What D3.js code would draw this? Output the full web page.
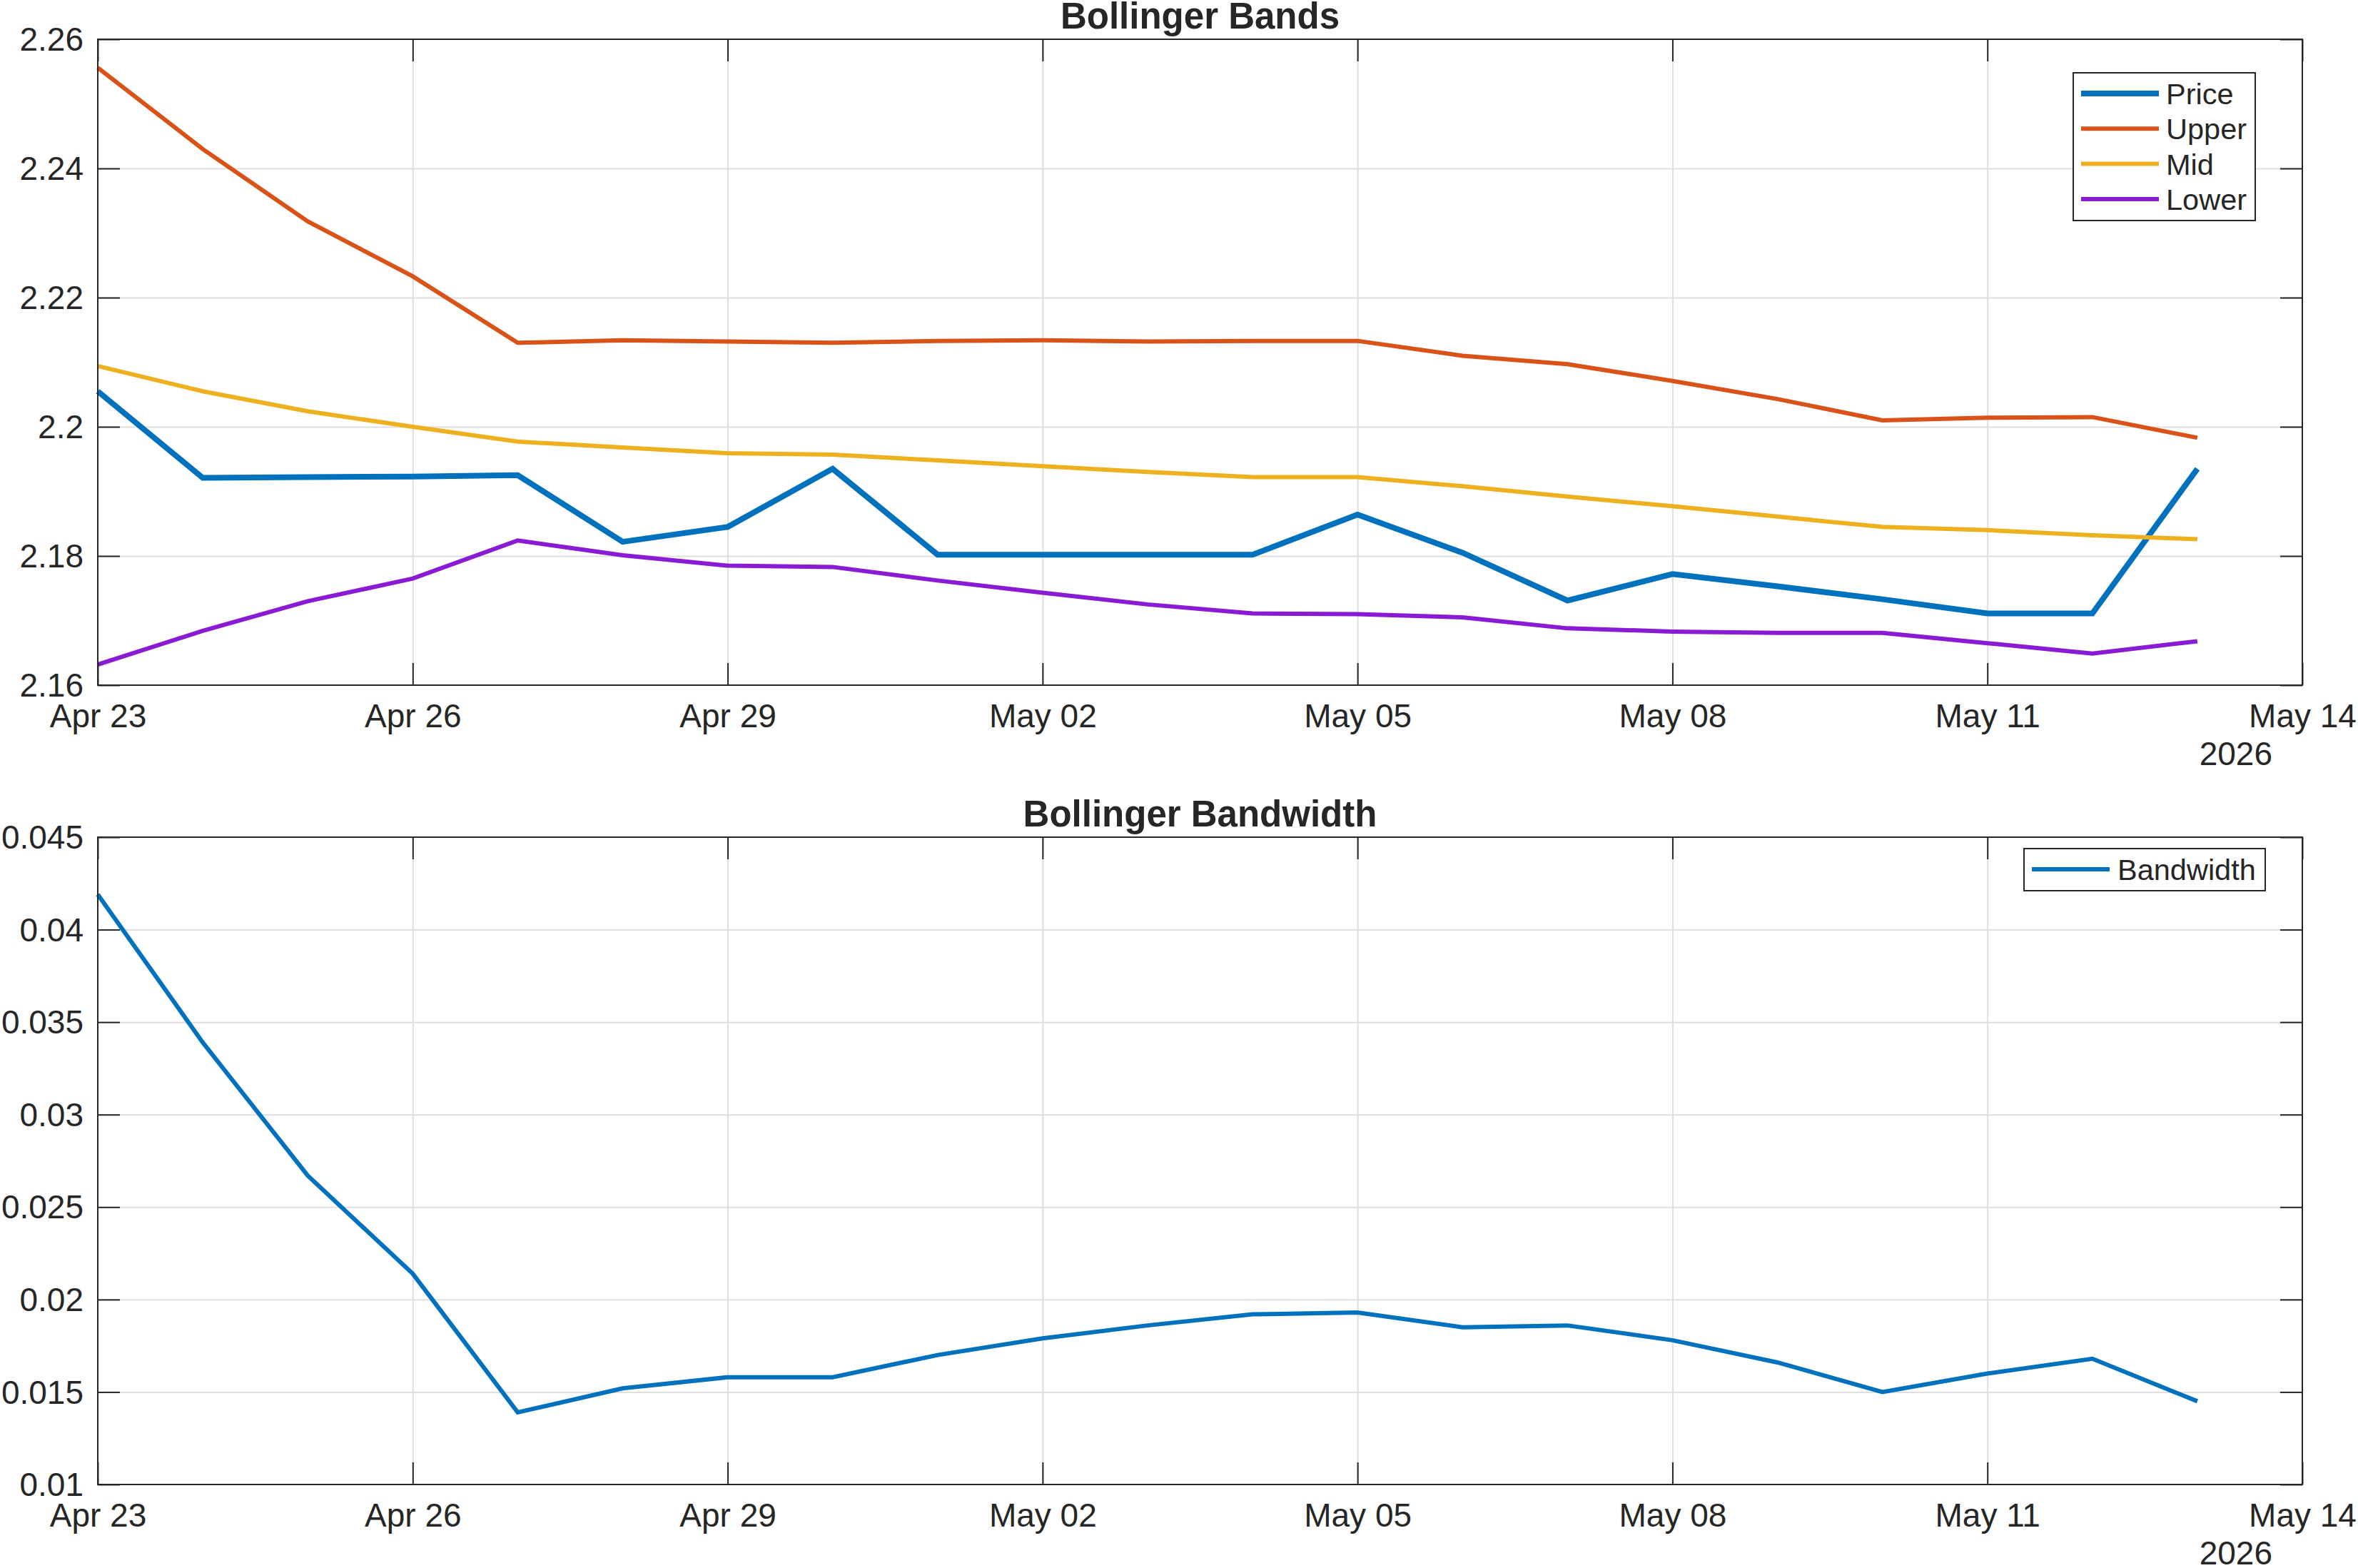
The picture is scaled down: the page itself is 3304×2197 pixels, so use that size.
<!DOCTYPE html>
<html>
<head>
<meta charset="utf-8">
<script src="https://cdn.jsdelivr.net/npm/d3@7"></script>
<style>
  html, body { margin: 0; padding: 0; background: #fff; }
  svg { display: block; }
  text { font-family: "Liberation Sans", Arial, Helvetica, sans-serif; fill: #262626; }
</style>
</head>
<body>
<svg id="chart" width="3304" height="2197"></svg>
<script>
// ---------------- DATA ----------------
const dates = ["2026-04-23","2026-04-24","2026-04-25","2026-04-26","2026-04-27","2026-04-28","2026-04-29",
  "2026-04-30","2026-05-01","2026-05-02","2026-05-03","2026-05-04","2026-05-05","2026-05-06","2026-05-07",
  "2026-05-08","2026-05-09","2026-05-10","2026-05-11","2026-05-12","2026-05-13"];
const price = [2.2055, 2.1921, 2.1922, 2.1923, 2.1925, 2.1822, 2.1845, 2.1935, 2.1802, 2.1802, 2.1802,
  2.1802, 2.1864, 2.1805, 2.1731, 2.1772, 2.1753, 2.1733, 2.1711, 2.1711, 2.1935];
const upper = [2.2556, 2.2430, 2.2318, 2.2233, 2.2130, 2.2134, 2.2132, 2.2130, 2.2133, 2.2134, 2.2132,
  2.2133, 2.2133, 2.2110, 2.2097, 2.2071, 2.2043, 2.2010, 2.2014, 2.2015, 2.1983];
const mid = [2.2094, 2.2055, 2.2024, 2.2000, 2.1977, 2.1968, 2.1959, 2.1957, 2.1948, 2.1939, 2.1930,
  2.1922, 2.1922, 2.1908, 2.1892, 2.1877, 2.1861, 2.1845, 2.1840, 2.1832, 2.1826];
const lower = [2.1632, 2.1684, 2.1730, 2.1765, 2.1824, 2.1801, 2.1785, 2.1783, 2.1762, 2.1743, 2.1725,
  2.1711, 2.1710, 2.1705, 2.1688, 2.1683, 2.1681, 2.1681, 2.1665, 2.1649, 2.1668];
const bandwidth = [0.0419, 0.0339, 0.0267, 0.0214, 0.0139, 0.0152, 0.0158, 0.0158, 0.0170, 0.0179, 0.0186,
  0.0192, 0.0193, 0.0185, 0.0186, 0.0178, 0.0166, 0.0150, 0.0160, 0.0168, 0.0145];

const xTickDates = ["2026-04-23","2026-04-26","2026-04-29","2026-05-02","2026-05-05","2026-05-08","2026-05-11","2026-05-14"];
const xTickLabels = ["Apr 23","Apr 26","Apr 29","May 02","May 05","May 08","May 11","May 14"];
const xYearLabel = "2026";
const bandsTicks = [2.16, 2.18, 2.20, 2.22, 2.24, 2.26];
const bandsTickLabels = ["2.16", "2.18", "2.2", "2.22", "2.24", "2.26"];
const bwTicks = [0.01, 0.015, 0.02, 0.025, 0.03, 0.035, 0.04, 0.045];
const bwTickLabels = ["0.01", "0.015", "0.02", "0.025", "0.03", "0.035", "0.04", "0.045"];
const bandsNames = ["Price", "Upper", "Mid", "Lower"];
const bwNames = ["Bandwidth"];

// ---------------- LAYOUT / STYLE ----------------
const parse = d3.utcParse("%Y-%m-%d");
const W = 3304;
const left = 137, right = 3226;
const tickLen = 31;
const axisColor = "#262626";
const gridColor = "#dfdfdf";
const colors = { Price: "#0072BD", Upper: "#D95319", Mid: "#EDB120", Lower: "#8A1BD4", Bandwidth: "#0072BD" };
const widths = { Price: 8, Upper: 6, Mid: 6, Lower: 6, Bandwidth: 6 };

const svg = d3.select("#chart");
svg.append("rect").attr("width", W).attr("height", 2197).attr("fill", "#fff");

const x = d3.scaleUtc()
  .domain([parse("2026-04-23"), parse("2026-05-14")])
  .range([left, right]);
const xTicks = xTickDates.map(parse);
const xLabelOf = new Map(xTicks.map((d, i) => [+d, xTickLabels[i]]));

function panel(cfg) {
  const { top, bottom, yDomain, yTicks, yLabels, title, series, legend } = cfg;
  const g = svg.append("g");
  const y = d3.scaleLinear().domain(yDomain).range([bottom, top]);
  const yLabelOf = new Map(yTicks.map((d, i) => [d, yLabels[i]]));

  // grid
  const innerX = xTicks.filter(d => +d !== +x.domain()[0] && +d !== +x.domain()[1]);
  g.append("g").attr("transform", `translate(0,${bottom})`)
    .call(d3.axisBottom(x).tickValues(innerX).tickSize(-(bottom - top)).tickFormat(""))
    .call(s => s.select(".domain").remove())
    .call(s => s.selectAll("line").attr("stroke", gridColor).attr("stroke-width", 2));
  const innerY = yTicks.filter(d => d !== yDomain[0] && d !== yDomain[1]);
  g.append("g").attr("transform", `translate(${left},0)`)
    .call(d3.axisLeft(y).tickValues(innerY).tickSize(-(right - left)).tickFormat(""))
    .call(s => s.select(".domain").remove())
    .call(s => s.selectAll("line").attr("stroke", gridColor).attr("stroke-width", 2));

  // series
  const line = d3.line().x((d, i) => x(parse(dates[i]))).y(d => y(d));
  series.forEach(s => {
    g.append("path").datum(s.values)
      .attr("d", line)
      .attr("fill", "none")
      .attr("stroke", colors[s.name])
      .attr("stroke-width", widths[s.name])
      .attr("stroke-linejoin", "miter")
      .attr("stroke-linecap", "butt");
  });

  // box
  g.append("rect").attr("x", left).attr("y", top)
    .attr("width", right - left).attr("height", bottom - top)
    .attr("fill", "none").attr("stroke", axisColor).attr("stroke-width", 2);

  const styleTicks = s => {
    s.select(".domain").remove();
    s.selectAll("line").attr("stroke", axisColor).attr("stroke-width", 2);
    s.selectAll("text").attr("fill", axisColor).style("font-size", "46px")
      .style("font-family", "'Liberation Sans', Arial, Helvetica, sans-serif");
  };

  // bottom axis
  g.append("g").attr("transform", `translate(0,${bottom})`)
    .call(d3.axisBottom(x).tickValues(xTicks).tickSizeInner(-tickLen).tickSizeOuter(0)
      .tickPadding(26).tickFormat(d => xLabelOf.get(+d)))
    .call(styleTicks);
  // top axis
  g.append("g").attr("transform", `translate(0,${top})`)
    .call(d3.axisTop(x).tickValues(xTicks).tickSizeInner(-tickLen).tickSizeOuter(0).tickFormat(""))
    .call(styleTicks);
  // left axis
  g.append("g").attr("transform", `translate(${left},0)`)
    .call(d3.axisLeft(y).tickValues(yTicks).tickSizeInner(-tickLen).tickSizeOuter(0)
      .tickPadding(20).tickFormat(d => yLabelOf.get(d)))
    .call(styleTicks)
    .call(s => s.selectAll("text").attr("dy", "0.34em"));
  // right axis
  g.append("g").attr("transform", `translate(${right},0)`)
    .call(d3.axisRight(y).tickValues(yTicks).tickSizeInner(-tickLen).tickSizeOuter(0).tickFormat(""))
    .call(styleTicks);

  // year label
  g.append("text").attr("x", 3184).attr("y", bottom + 112)
    .attr("text-anchor", "end").style("font-size", "46px").attr("fill", axisColor)
    .text(xYearLabel);

  // title
  g.append("text").attr("x", (left + right) / 2).attr("y", top - 15)
    .attr("text-anchor", "middle").style("font-size", "51px").style("font-weight", "bold")
    .attr("fill", "#1a1a1a").text(title);

  // legend
  const lg = g.append("g");
  lg.append("rect").attr("x", legend.x).attr("y", legend.y)
    .attr("width", legend.w).attr("height", legend.h)
    .attr("fill", "#fff").attr("stroke", axisColor).attr("stroke-width", 2);
  series.forEach((s, i) => {
    const ly = legend.firstY + i * legend.step;
    lg.append("line").attr("x1", legend.lineX1).attr("x2", legend.lineX2)
      .attr("y1", ly).attr("y2", ly)
      .attr("stroke", colors[s.name]).attr("stroke-width", widths[s.name]);
    lg.append("text").attr("x", legend.textX).attr("y", ly).attr("dy", "0.36em")
      .style("font-size", "41.5px").attr("fill", axisColor).text(s.name);
  });
}

panel({
  top: 55, bottom: 960,
  yDomain: [2.16, 2.26], yTicks: bandsTicks, yLabels: bandsTickLabels,
  title: "Bollinger Bands",
  series: [
    { name: bandsNames[0], values: price },
    { name: bandsNames[1], values: upper },
    { name: bandsNames[2], values: mid },
    { name: bandsNames[3], values: lower }
  ],
  legend: { x: 2905, y: 102, w: 255, h: 207, firstY: 131, step: 49.3, lineX1: 2916, lineX2: 3025, textX: 3035 }
});

panel({
  top: 1173, bottom: 2080,
  yDomain: [0.01, 0.045], yTicks: bwTicks, yLabels: bwTickLabels,
  title: "Bollinger Bandwidth",
  series: [{ name: bwNames[0], values: bandwidth }],
  legend: { x: 2836, y: 1189, w: 338, h: 59, firstY: 1218, step: 49, lineX1: 2847, lineX2: 2956, textX: 2967 }
});
</script>
</body>
</html>
